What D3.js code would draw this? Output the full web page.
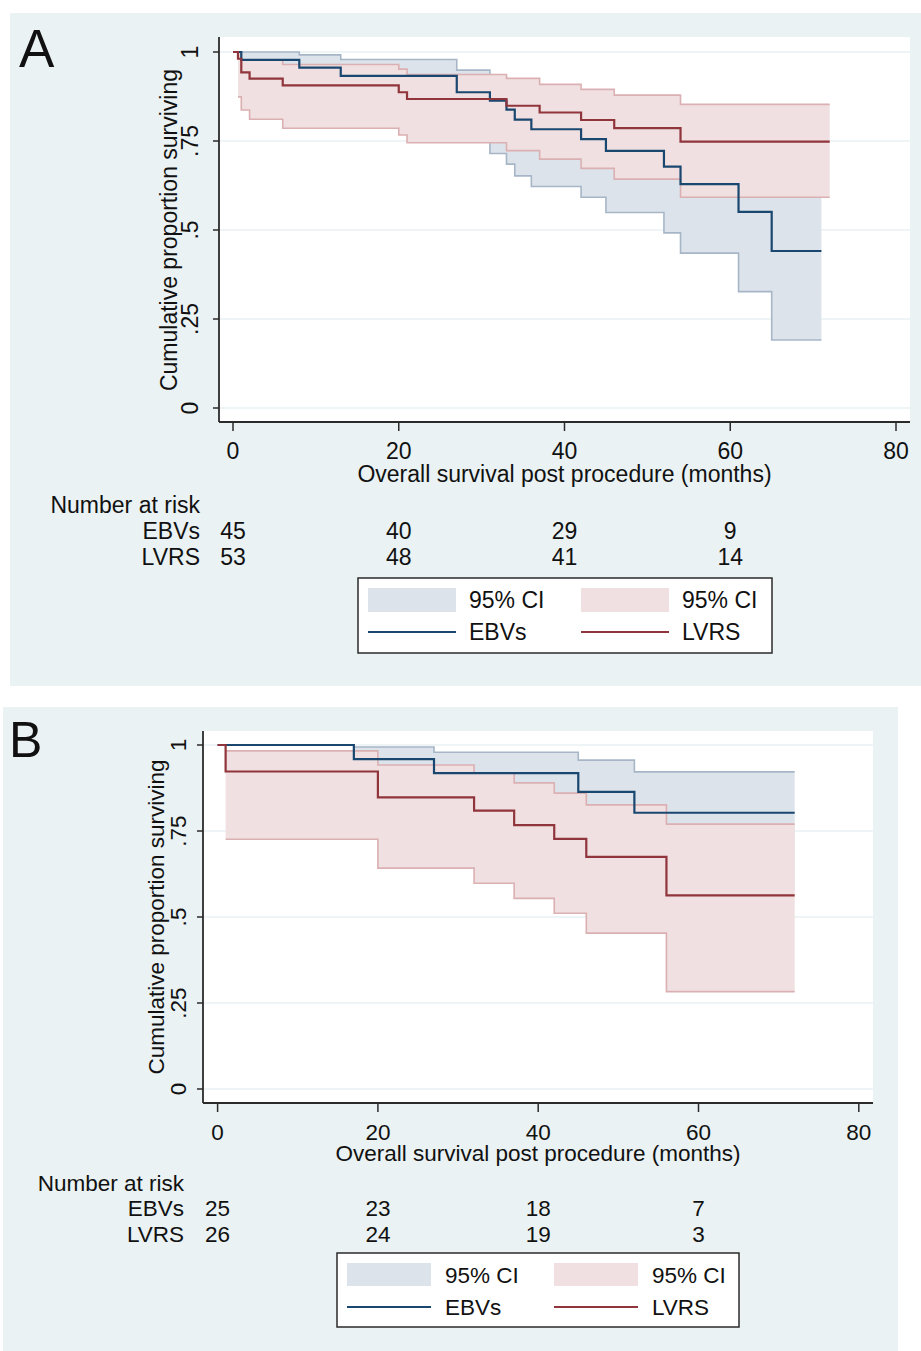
<!DOCTYPE html>
<html>
<head>
<meta charset="utf-8">
<script src="https://cdn.jsdelivr.net/npm/d3@7"></script>
<style>
  body { margin: 0; background: #ffffff; }
  svg text { font-family: "Liberation Sans", Arial, sans-serif; fill: #111; }
</style>
</head>
<body>
<div id="chart"></div>
<script>
// Panel A data
const aEbvTime = [0, 1, 8, 13, 27, 31, 33, 34, 36, 42, 45, 52, 54, 61, 65];
const aEbvSurv = [1, .978, .956, .933, .887, .863, .838, .810, .783, .755, .722, .678, .629, .551, .441];
const aEbvLow  = [1, .85, .84, .81, .76, .715, .685, .652, .622, .592, .549, .492, .435, .327, .191];
const aEbvHigh = [1, 1, .992, .979, .949, .93, .91, .89, .87, .85, .82, .78, .74, .68, .62];
const aEbvEnd = 71;

const aLvrsTime = [0, 0.6, 1, 2, 6, 20, 21, 33, 37, 42, 46, 54];
const aLvrsSurv = [1, .981, .943, .925, .906, .887, .868, .849, .830, .809, .786, .748];
const aLvrsLow  = [1, .874, .837, .811, .786, .767, .745, .723, .699, .673, .643, .592];
const aLvrsHigh = [1, 1, .977, .977, .965, .952, .937, .926, .909, .895, .879, .853];
const aLvrsEnd = 72;

// Panel B data
const bEbvTime = [0, 17, 27, 45, 52];
const bEbvSurv = [1, .959, .918, .864, .803];
const bEbvLow  = [1, .75, .72, .64, .58];
const bEbvHigh = [1, .994, .979, .956, .922];
const bEbvEnd = 72;

const bLvrsTime = [0, 1, 20, 32, 37, 42, 46, 56];
const bLvrsSurv = [1, .923, .848, .809, .767, .727, .675, .563];
const bLvrsLow  = [1, .726, .642, .598, .554, .511, .453, .283];
const bLvrsHigh = [1, .983, .942, .918, .890, .860, .826, .770];
const bLvrsEnd = 72;

// Number at risk
const riskTimes = [0, 20, 40, 60];
const aRiskEbv = [45, 40, 29, 9];
const aRiskLvrs = [53, 48, 41, 14];
const bRiskEbv = [25, 23, 18, 7];
const bRiskLvrs = [26, 24, 19, 3];

const xTicks = [0, 20, 40, 60, 80];
const yTicks = [0, 0.25, 0.5, 0.75, 1];
const yTickLabels = ["0", ".25", ".5", ".75", "1"];
const groupNames = ["EBVs", "LVRS"];
const legendLabels = ["95% CI", "95% CI", "EBVs", "LVRS"];

const colors = {
  bg: "#eaf2f3",
  ebvLine: "#1a476f",
  lvrsLine: "#90353b",
  ebvFill: "#dde3ea",
  ebvEdge: "#a6b6c7",
  lvrsFill: "#f0e0e1",
  lvrsEdge: "#dbb0b2"
};

const svg = d3.select("#chart")
  .append("svg")
  .attr("width", 921)
  .attr("height", 1351);

function series(time, surv, low, high, end) {
  const pts = time.map((t, i) => ({ t: t, s: surv[i], lo: low[i], hi: high[i] }));
  const last = pts[pts.length - 1];
  pts.push({ t: end, s: last.s, lo: last.lo, hi: last.hi });
  return pts;
}

function drawPanel(p) {
  const g = svg.append("g");

  g.append("rect")
    .attr("x", p.bg[0]).attr("y", p.bg[1])
    .attr("width", p.bg[2]).attr("height", p.bg[3])
    .attr("fill", colors.bg);

  g.append("rect")
    .attr("x", p.plot[0]).attr("y", p.plot[1])
    .attr("width", p.plot[2] - p.plot[0]).attr("height", p.plot[3] - p.plot[1])
    .attr("fill", "#ffffff");

  const x = d3.scaleLinear().domain([0, 80]).range(p.xRange);
  const y = d3.scaleLinear().domain([0, 1]).range(p.yRange);

  // gridlines
  g.selectAll(".grid")
    .data(yTicks)
    .enter()
    .append("line")
    .attr("x1", p.plot[0]).attr("x2", p.plot[2])
    .attr("y1", d => y(d)).attr("y2", d => y(d))
    .attr("stroke", colors.bg)
    .attr("stroke-width", 1.5);

  const area = d3.area()
    .x(d => x(d.t))
    .y0(d => y(d.lo))
    .y1(d => y(d.hi))
    .curve(d3.curveStepAfter);

  const lineOf = key => d3.line()
    .x(d => x(d.t))
    .y(d => y(d[key]))
    .curve(d3.curveStepAfter);

  const bands = [
    { data: p.ebv, fill: colors.ebvFill, edge: colors.ebvEdge },
    { data: p.lvrs, fill: colors.lvrsFill, edge: colors.lvrsEdge }
  ];

  bands.forEach(b => {
    const d = b.data.filter((v, i) => i > 0 || b.data.length === 1);
    g.append("path")
      .attr("d", area(d))
      .attr("fill", b.fill);
    ["lo", "hi"].forEach(k => {
      g.append("path")
        .attr("d", lineOf(k)(d))
        .attr("fill", "none")
        .attr("stroke", b.edge)
        .attr("stroke-width", 1.6);
    });
  });

  g.append("path")
    .attr("d", lineOf("s")(p.ebv))
    .attr("fill", "none")
    .attr("stroke", colors.ebvLine)
    .attr("stroke-width", 2.2);

  g.append("path")
    .attr("d", lineOf("s")(p.lvrs))
    .attr("fill", "none")
    .attr("stroke", colors.lvrsLine)
    .attr("stroke-width", 2.2);

  // axes
  g.append("line")
    .attr("x1", p.plot[0]).attr("x2", p.plot[0])
    .attr("y1", p.plot[1]).attr("y2", p.plot[3])
    .attr("stroke", "#2b2b2b").attr("stroke-width", 1.8);
  g.append("line")
    .attr("x1", p.plot[0]).attr("x2", p.plot[2])
    .attr("y1", p.plot[3]).attr("y2", p.plot[3])
    .attr("stroke", "#2b2b2b").attr("stroke-width", 1.8);

  g.selectAll(".xtick")
    .data(xTicks)
    .enter()
    .append("line")
    .attr("x1", d => x(d)).attr("x2", d => x(d))
    .attr("y1", p.plot[3]).attr("y2", p.plot[3] + 9)
    .attr("stroke", "#2b2b2b").attr("stroke-width", 1.5);

  g.selectAll(".xlab")
    .data(xTicks)
    .enter()
    .append("text")
    .attr("x", d => x(d))
    .attr("y", p.xLabelY)
    .attr("text-anchor", "middle")
    .attr("font-size", p.fs)
    .text(d => d);

  g.selectAll(".ytick")
    .data(yTicks)
    .enter()
    .append("line")
    .attr("x1", p.plot[0] - 6).attr("x2", p.plot[0])
    .attr("y1", d => y(d)).attr("y2", d => y(d))
    .attr("stroke", "#2b2b2b").attr("stroke-width", 1.5);

  g.selectAll(".ylab")
    .data(yTicks)
    .enter()
    .append("text")
    .attr("transform", d => `translate(${p.yLabelX},${y(d)}) rotate(-90)`)
    .attr("text-anchor", "middle")
    .attr("font-size", p.fs)
    .text((d, i) => yTickLabels[i]);

  g.append("text")
    .attr("transform", `translate(${p.yTitleX},${y(0.5)}) rotate(-90)`)
    .attr("text-anchor", "middle")
    .attr("font-size", p.fs)
    .text("Cumulative proportion surviving");

  g.append("text")
    .attr("x", (p.plot[0] + p.plot[2]) / 2)
    .attr("y", p.xTitleY)
    .attr("text-anchor", "middle")
    .attr("font-size", p.fs)
    .text("Overall survival post procedure (months)");

  // number at risk table
  g.append("text")
    .attr("x", p.riskRight).attr("y", p.riskY[0])
    .attr("text-anchor", "end")
    .attr("font-size", p.fs)
    .text("Number at risk");

  [p.riskEbv, p.riskLvrs].forEach((row, r) => {
    g.append("text")
      .attr("x", p.riskRight).attr("y", p.riskY[r + 1])
      .attr("text-anchor", "end")
      .attr("font-size", p.fs)
      .text(groupNames[r]);
    g.selectAll(".risk" + r)
      .data(row)
      .enter()
      .append("text")
      .attr("x", (d, i) => x(riskTimes[i]))
      .attr("y", p.riskY[r + 1])
      .attr("text-anchor", "middle")
      .attr("font-size", p.fs)
      .text(d => d);
  });

  // legend
  const L = p.legend;
  g.append("rect")
    .attr("x", L.box[0]).attr("y", L.box[1])
    .attr("width", L.box[2] - L.box[0]).attr("height", L.box[3] - L.box[1])
    .attr("fill", "#ffffff")
    .attr("stroke", "#2b2b2b")
    .attr("stroke-width", 1.5);

  [colors.ebvFill, colors.lvrsFill].forEach((c, i) => {
    g.append("rect")
      .attr("x", L.sw[i]).attr("y", L.swY[0])
      .attr("width", L.swW).attr("height", L.swY[1] - L.swY[0])
      .attr("fill", c);
  });
  [colors.ebvLine, colors.lvrsLine].forEach((c, i) => {
    g.append("line")
      .attr("x1", L.sw[i]).attr("x2", L.sw[i] + L.swW)
      .attr("y1", L.lineY).attr("y2", L.lineY)
      .attr("stroke", c).attr("stroke-width", 2);
  });
  legendLabels.forEach((t, i) => {
    g.append("text")
      .attr("x", L.tx[i % 2])
      .attr("y", i < 2 ? L.textY[0] : L.textY[1])
      .attr("font-size", p.fs)
      .text(t);
  });

  g.append("text")
    .attr("x", p.letter[0]).attr("y", p.letter[1])
    .attr("font-size", p.letter[2])
    .text(p.name);
}

drawPanel({
  name: "A",
  letter: [19, 67, 53],
  bg: [10, 13, 911, 673],
  plot: [219, 37, 910, 422],
  xRange: [233, 896],
  yRange: [408, 52],
  fs: 23,
  xLabelY: 459,
  xTitleY: 482,
  yLabelX: 198,
  yTitleX: 177,
  ebv: series(aEbvTime, aEbvSurv, aEbvLow, aEbvHigh, aEbvEnd),
  lvrs: series(aLvrsTime, aLvrsSurv, aLvrsLow, aLvrsHigh, aLvrsEnd),
  riskRight: 200,
  riskY: [513, 539, 565],
  riskEbv: aRiskEbv,
  riskLvrs: aRiskLvrs,
  legend: {
    box: [358, 578, 772, 653],
    sw: [368, 581], swW: 88, swY: [588, 612],
    lineY: 632,
    tx: [469, 682],
    textY: [608, 640]
  }
});

drawPanel({
  name: "B",
  letter: [9, 757, 50],
  bg: [3, 707, 895, 644],
  plot: [203, 731, 873, 1103],
  xRange: [217.6, 858.8],
  yRange: [1089, 745],
  fs: 22.5,
  xLabelY: 1140,
  xTitleY: 1161,
  yLabelX: 186,
  yTitleX: 164,
  ebv: series(bEbvTime, bEbvSurv, bEbvLow, bEbvHigh, bEbvEnd),
  lvrs: series(bLvrsTime, bLvrsSurv, bLvrsLow, bLvrsHigh, bLvrsEnd),
  riskRight: 184,
  riskY: [1191, 1216, 1242],
  riskEbv: bRiskEbv,
  riskLvrs: bRiskLvrs,
  legend: {
    box: [337, 1253, 739, 1327],
    sw: [347, 554], swW: 84, swY: [1263, 1286],
    lineY: 1307,
    tx: [445, 652],
    textY: [1283, 1315]
  }
});
</script>
</body>
</html>
